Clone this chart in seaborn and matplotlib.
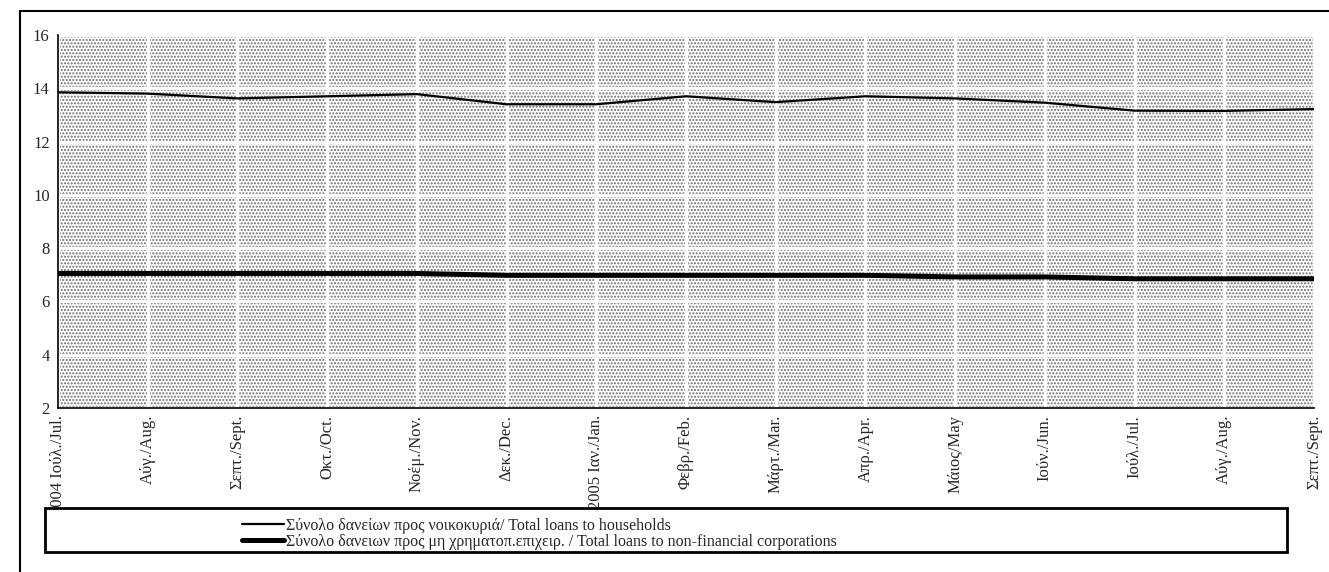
import pandas as pd
import matplotlib.pyplot as plt
import seaborn as sns
from matplotlib.patches import Rectangle

# Monthly data, Jul 2004 - Sep 2005 (%)
months = ['2004 Ιούλ./Jul.', 'Αύγ./Aug.', 'Σεπτ./Sept.', 'Οκτ./Oct.', 'Νοέμ./Nov.',
          'Δεκ./Dec.', '2005 Ιαν./Jan.', 'Φεβρ./Feb.', 'Μάρτ./Mar.', 'Απρ./Apr.',
          'Μάιος/May', 'Ιούν./Jun.', 'Ιούλ./Jul.', 'Αύγ./Aug.', 'Σεπτ./Sept.']
households = [13.85, 13.80, 13.62, 13.70, 13.78, 13.40, 13.40, 13.70, 13.48, 13.70,
              13.62, 13.46, 13.16, 13.15, 13.22]
corporations = [7.05, 7.05, 7.05, 7.05, 7.05, 6.98, 6.98, 6.98, 6.98, 6.98,
                6.92, 6.92, 6.85, 6.85, 6.85]
label_hh = 'Σύνολο δανείων προς νοικοκυριά/ Total loans to households'
label_nfc = 'Σύνολο δανειων προς μη χρηματοπ.επιχειρ. / Total loans to non-financial corporations'

df = pd.DataFrame({'pos': list(range(len(months))) * 2,
                   'value': households + corporations,
                   'series': [label_hh] * len(months) + [label_nfc] * len(months)})

sns.set_style('white')
plt.rcParams['font.family'] = ['Liberation Serif', 'DejaVu Serif']
plt.rcParams['hatch.linewidth'] = 1.0

fig = plt.figure(figsize=(13.29, 5.72), dpi=100)
ax = fig.add_axes([58 / 1329, 1 - 408 / 572, (1314 - 58) / 1329, (408 - 35) / 572])

# dotted background
ax.add_patch(Rectangle((0, 0), 1, 1, transform=ax.transAxes, facecolor='white',
                       edgecolor='#6e6e6e', linewidth=0, hatch='.....', zorder=0))

sns.lineplot(data=df, x='pos', y='value', hue='series', size='series',
             sizes={label_hh: 1.6, label_nfc: 3.6},
             palette={label_hh: 'black', label_nfc: 'black'}, ax=ax, legend=False)

ax.set_xlim(0, len(months) - 1)
ax.set_ylim(2, 16)
ax.set_yticks(range(2, 17, 2))
ax.set_xticks(range(len(months)))
ax.set_xticklabels(months, rotation=90, va='top', fontsize=12)
ax.tick_params(axis='y', labelsize=12, direction='out', length=4, width=1.2, pad=2)
ax.tick_params(axis='x', direction='out', length=4, width=1.2, pad=1)
ax.grid(True, color='white', linewidth=2.4)
for gl in ax.get_xgridlines() + ax.get_ygridlines():
    gl.set_zorder(1)
for ln in ax.lines:
    if ln.get_linewidth() > 1.5:
        ln.set_zorder(3)
ax.set_xlabel('')
ax.set_ylabel('')
for s in ['top', 'right']:
    ax.spines[s].set_visible(False)
for s in ['left', 'bottom']:
    ax.spines[s].set_color('black')
    ax.spines[s].set_linewidth(1.2)
    ax.spines[s].set_zorder(4)

# outer chart border
fig.patches.append(Rectangle((20 / 1329, -0.05), 1.1, 1 - 11 / 572 + 0.05,
                             transform=fig.transFigure, fill=False,
                             edgecolor='black', linewidth=1.5))

# legend box
fig.patches.append(Rectangle((45 / 1329, 1 - 552 / 572), (1287 - 45) / 1329, 44 / 572,
                             transform=fig.transFigure, facecolor='white',
                             edgecolor='black', linewidth=2, zorder=5))
handles = [plt.Line2D([], [], color='black', linewidth=1.6),
           plt.Line2D([], [], color='black', linewidth=3.6)]
leg = fig.legend(handles, [label_hh, label_nfc], loc='upper left',
                 bbox_to_anchor=(234 / 1329, 1 - 510 / 572), frameon=False,
                 fontsize=11.5, handlelength=2.6, handletextpad=0.15,
                 labelspacing=0.0, borderpad=0)
leg.set_zorder(6)

fig.savefig('out.png', dpi=100)
